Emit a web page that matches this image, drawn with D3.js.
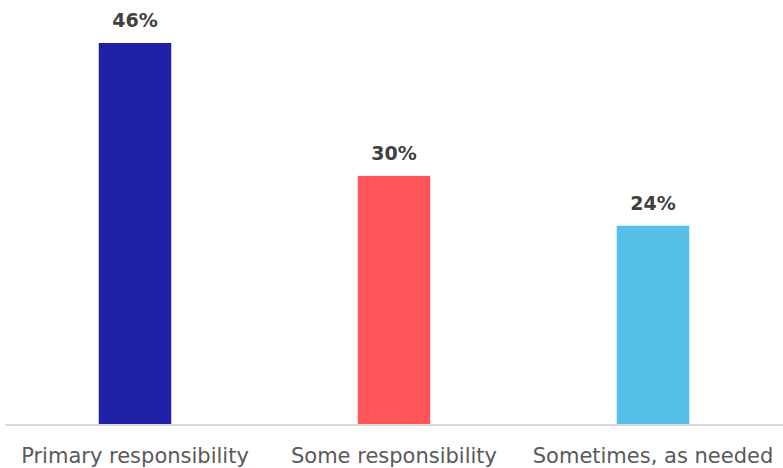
<!DOCTYPE html>
<html>
<head>
<meta charset="utf-8">
<script src="https://cdn.jsdelivr.net/npm/d3@7"></script>
<style>
  body { margin: 0; background: #fff; }
  #wrapper svg { display: block; }
</style>
</head>
<body>
<div id="wrapper"></div>
<script>
const categories = ["Primary responsibility", "Some responsibility", "Sometimes, as needed"];
const values = [46, 30, 24];
const colors = ["#1F20A6", "#FF5559", "#55C1E8"];

const data = categories.map((c, i) => ({ category: c, value: values[i], color: colors[i] }));

const xAccessor = d => d.category;
const yAccessor = d => d.value;

const dimensions = {
  width: 783,
  height: 468,
  margin: { top: 43, right: 0.5, left: 5.5, bottom: 43 }
};
dimensions.boundedWidth = dimensions.width - dimensions.margin.left - dimensions.margin.right;
dimensions.boundedHeight = dimensions.height - dimensions.margin.top - dimensions.margin.bottom;

const wrapper = d3.select("#wrapper")
  .append("svg")
  .attr("width", dimensions.width)
  .attr("height", dimensions.height);

const bounds = wrapper.append("g")
  .attr("transform", `translate(${dimensions.margin.left},${dimensions.margin.top})`);

const xScale = d3.scaleBand()
  .domain(categories)
  .range([0, dimensions.boundedWidth])
  .paddingInner(0.72)
  .paddingOuter(0.36);

// top bar (46%) reaches the top of the bounds
const yScale = d3.scaleLinear()
  .domain([0, 46])
  .range([dimensions.boundedHeight, 0]);

bounds.selectAll("rect.bar")
  .data(data)
  .join("rect")
  .attr("class", "bar")
  .attr("x", d => xScale(xAccessor(d)))
  .attr("y", d => yScale(yAccessor(d)))
  .attr("width", xScale.bandwidth())
  .attr("height", d => dimensions.boundedHeight - yScale(yAccessor(d)))
  .attr("fill", d => d.color);

// value labels
bounds.selectAll("text.value")
  .data(data)
  .join("text")
  .attr("class", "value")
  .attr("x", d => xScale(xAccessor(d)) + xScale.bandwidth() / 2)
  .attr("y", d => yScale(yAccessor(d)) - 16)
  .attr("text-anchor", "middle")
  .attr("fill", "#404040")
  .style("font-family", "'DejaVu Sans', sans-serif")
  .style("font-weight", "bold")
  .style("font-size", "19px")
  .text(d => d.value + "%");

// x axis (no ticks, just the baseline and labels)
const xAxisGenerator = d3.axisBottom(xScale)
  .tickSize(0)
  .tickPadding(0);

const xAxis = bounds.append("g")
  .attr("transform", `translate(0,${dimensions.boundedHeight})`)
  .call(xAxisGenerator);

xAxis.select(".domain")
  .attr("d", `M0,0H${dimensions.boundedWidth + 5}`)
  .attr("stroke", "#d9d9d9")
  .attr("stroke-width", 2);

xAxis.selectAll(".tick text")
  .attr("dy", 0)
  .attr("y", 38)
  .attr("fill", "#595959")
  .style("font-family", "'DejaVu Sans', sans-serif")
  .style("font-size", "21px");
</script>
</body>
</html>
